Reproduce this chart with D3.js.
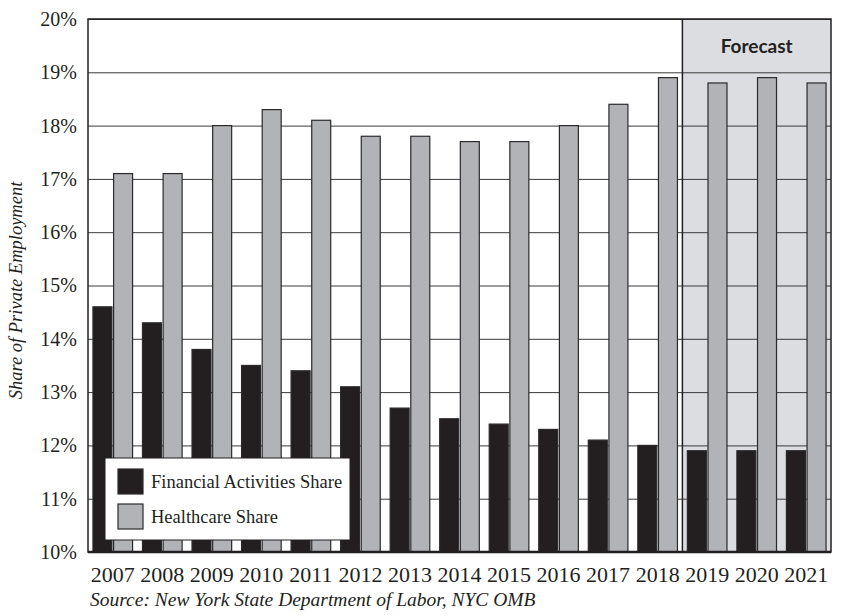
<!DOCTYPE html>
<html>
<head>
<meta charset="utf-8">
<script src="https://cdn.jsdelivr.net/npm/d3@7"></script>
<style>
  body { margin: 0; background: #fff; }
  svg { display: block; }
</style>
</head>
<body>
<svg id="chart"></svg>
<script>
const years = ['2007','2008','2009','2010','2011','2012','2013','2014','2015','2016','2017','2018','2019','2020','2021'];
const financial = [14.6, 14.3, 13.8, 13.5, 13.4, 13.1, 12.7, 12.5, 12.4, 12.3, 12.1, 12.0, 11.9, 11.9, 11.9];
const healthcare = [17.1, 17.1, 18.0, 18.3, 18.1, 17.8, 17.8, 17.7, 17.7, 18.0, 18.4, 18.9, 18.8, 18.9, 18.8];
const yTicks = [10, 11, 12, 13, 14, 15, 16, 17, 18, 19, 20];
const forecastYears = ['2019', '2020', '2021'];
const seriesNames = ['Financial Activities Share', 'Healthcare Share'];
const seriesColors = ['#231f20', '#b1b3b6'];

const width = 841, height = 616;
const plotLeft = 88, plotRight = 831, plotTop = 19, plotBottom = 552;

const svg = d3.select('#chart')
  .attr('width', width)
  .attr('height', height)
  .attr('viewBox', `0 0 ${width} ${height}`);

const x0 = d3.scaleBand()
  .domain(years)
  .range([plotLeft, plotRight])
  .paddingInner(0.2)
  .paddingOuter(0.1);

const x1 = d3.scaleBand()
  .domain([0, 1])
  .range([0, x0.bandwidth()])
  .paddingInner(0.08);

const y = d3.scaleLinear()
  .domain([10, 20])
  .range([plotBottom, plotTop]);

// forecast shading
const fStart = x0(forecastYears[0]) - x0.step() * x0.paddingInner() / 2;
svg.append('rect')
  .attr('x', fStart)
  .attr('y', y(20))
  .attr('width', plotRight - fStart)
  .attr('height', y(10) - y(20))
  .attr('fill', '#dcdde0');

// grid lines
svg.append('g')
  .attr('transform', `translate(${plotLeft},0)`)
  .call(d3.axisLeft(y).tickValues(yTicks.slice(1)).tickSize(-(plotRight - plotLeft)).tickFormat(''))
  .call(g => g.select('.domain').remove())
  .call(g => g.selectAll('line').attr('stroke', '#3a3a3a').attr('stroke-width', 1));

// y tick labels
svg.append('g')
  .attr('transform', `translate(${plotLeft},0)`)
  .call(d3.axisLeft(y).tickValues(yTicks).tickSize(0).tickPadding(11).tickFormat(d => d + '%'))
  .call(g => g.select('.domain').remove())
  .call(g => g.selectAll('text')
    .attr('font-family', '"Liberation Serif", serif')
    .attr('font-size', 20)
    .attr('fill', '#231f20'));

// bars
const groups = svg.append('g')
  .selectAll('g')
  .data(years.map((yr, i) => ({ year: yr, values: [financial[i], healthcare[i]] })))
  .enter()
  .append('g')
  .attr('transform', d => `translate(${x0(d.year)},0)`);

groups.selectAll('rect')
  .data(d => d.values.map((v, k) => ({ k, v })))
  .enter()
  .append('rect')
  .attr('x', d => x1(d.k))
  .attr('y', d => y(d.v))
  .attr('width', x1.bandwidth())
  .attr('height', d => y(10) - y(d.v))
  .attr('fill', d => seriesColors[d.k])
  .attr('stroke', '#2a2a2a')
  .attr('stroke-width', 1.2);

// forecast divider and label
svg.append('line')
  .attr('x1', fStart).attr('x2', fStart)
  .attr('y1', y(20)).attr('y2', y(10))
  .attr('stroke', '#231f20').attr('stroke-width', 1.5);

svg.append('text')
  .attr('x', (fStart + plotRight) / 2)
  .attr('y', (y(20) + y(19)) / 2 + 7)
  .attr('text-anchor', 'middle')
  .attr('font-family', 'Lato, sans-serif')
  .attr('font-weight', 'bold')
  .attr('font-size', 19)
  .attr('fill', '#231f20')
  .text('Forecast');

// frame
svg.append('rect')
  .attr('x', plotLeft)
  .attr('y', y(20))
  .attr('width', plotRight - plotLeft)
  .attr('height', y(10) - y(20))
  .attr('fill', 'none')
  .attr('stroke', '#231f20')
  .attr('stroke-width', 1.5);

svg.append('line')
  .attr('x1', plotLeft).attr('x2', plotRight)
  .attr('y1', y(10)).attr('y2', y(10))
  .attr('stroke', '#231f20').attr('stroke-width', 2.5);

// x labels
svg.append('g')
  .attr('transform', `translate(0,${plotBottom})`)
  .call(d3.axisBottom(x0).tickSize(0).tickPadding(14).tickSizeOuter(0))
  .call(g => g.select('.domain').remove())
  .call(g => g.selectAll('text')
    .attr('font-family', '"Liberation Serif", serif')
    .attr('font-size', 22)
    .attr('fill', '#231f20'));

// legend
const legend = svg.append('g').attr('transform', 'translate(105,458)');
legend.append('rect')
  .attr('width', 245).attr('height', 82)
  .attr('fill', '#fff')
  .attr('stroke', '#231f20').attr('stroke-width', 1);

seriesNames.forEach((name, i) => {
  legend.append('rect')
    .attr('x', 13).attr('y', 11 + i * 35)
    .attr('width', 25).attr('height', 25)
    .attr('fill', seriesColors[i])
    .attr('stroke', '#2a2a2a').attr('stroke-width', 1.2);
  legend.append('text')
    .attr('x', 46).attr('y', 30 + i * 35)
    .attr('font-family', '"Liberation Serif", serif')
    .attr('font-size', 18.5)
    .attr('fill', '#231f20')
    .text(name);
});

// axis title
svg.append('text')
  .attr('transform', `translate(22,${(plotTop + plotBottom) / 2 + 5}) rotate(-90)`)
  .attr('text-anchor', 'middle')
  .attr('font-family', '"Liberation Serif", serif')
  .attr('font-style', 'italic')
  .attr('font-size', 18.5)
  .attr('fill', '#231f20')
  .text('Share of Private Employment');

// source
svg.append('text')
  .attr('x', 90)
  .attr('y', 606)
  .attr('font-family', '"Liberation Serif", serif')
  .attr('font-style', 'italic')
  .attr('font-size', 19.5)
  .attr('fill', '#231f20')
  .text('Source: New York State Department of Labor, NYC OMB');
</script>
</body>
</html>
